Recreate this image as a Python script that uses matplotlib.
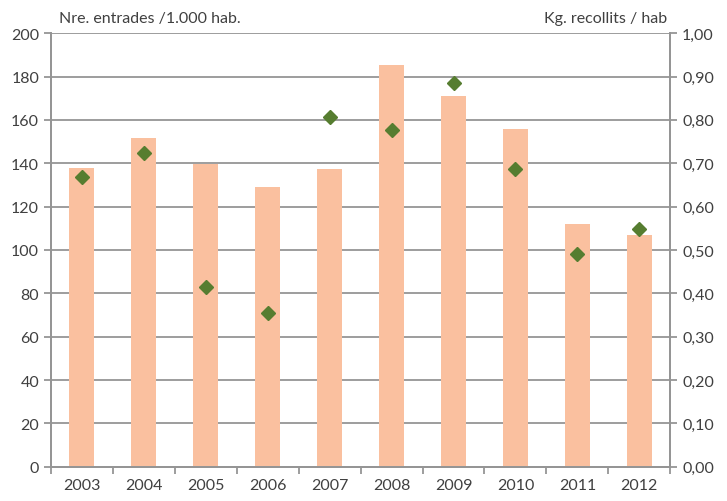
import numpy as np
import matplotlib
matplotlib.use('Agg')
import matplotlib.pyplot as plt
from matplotlib.ticker import FuncFormatter

plt.rcParams['font.family'] = ['Lato', 'DejaVu Sans']

# data
years = ['2003', '2004', '2005', '2006', '2007', '2008', '2009', '2010', '2011', '2012']
entrades = [138, 151.5, 139.5, 129, 137.5, 185.3, 171, 155.8, 112, 107]   # left axis, bars
kg_hab = [0.668, 0.723, 0.415, 0.355, 0.806, 0.776, 0.885, 0.687, 0.491, 0.548]  # right axis

grey = '#959595'
txt = '#404040'

fig = plt.figure(figsize=(7.27, 5.02), dpi=100)
ax = fig.add_axes([0.070, 0.068, 0.852, 0.864])
x = np.arange(len(years))

ax.bar(x, entrades, width=0.4, color='#FAC09F', zorder=2)
ax.set_ylim(0, 200)
ax.set_xlim(-0.5, len(years) - 0.5)
ax.set_yticks(np.arange(0, 201, 20))
ax.yaxis.grid(True, color=grey, linewidth=1.3, zorder=0)
ax.set_axisbelow(True)
ax.set_xticks(x)
ax.set_xticklabels(years)
ax.set_xticks(np.arange(-0.5, len(years), 1), minor=True)
ax.tick_params(axis='x', which='major', length=0, pad=8, labelsize=11.5, labelcolor=txt)
ax.tick_params(axis='x', which='minor', length=5, color=grey, width=1.3, direction='out')
ax.tick_params(axis='y', length=5, color=grey, width=1.3, labelsize=11.5, labelcolor=txt)
ax.spines['top'].set_visible(False)
for s in ['left', 'right', 'bottom']:
    ax.spines[s].set_color(grey)
    ax.spines[s].set_linewidth(1.3)

ax2 = ax.twinx()
ax2.plot(x, kg_hab, linestyle='none', marker='D', markersize=7, color='#567D30', zorder=3)
ax2.set_ylim(0, 1.0)
ax2.set_yticks(np.arange(0, 1.01, 0.1))
ax2.yaxis.set_major_formatter(FuncFormatter(lambda v, p: f'{v:.2f}'.replace('.', ',')))
ax2.tick_params(axis='y', length=5, color=grey, width=1.3, labelsize=11.5, labelcolor=txt)
ax2.spines['top'].set_visible(False)
for s in ['left', 'right', 'bottom']:
    ax2.spines[s].set_color(grey)
    ax2.spines[s].set_linewidth(1.3)

fig.text(0.081, 0.955, 'Nre. entrades /1.000 hab.', fontsize=11.5, color=txt, ha='left', va='baseline')
fig.text(0.918, 0.955, 'Kg. recollits / hab', fontsize=11.5, color=txt, ha='right', va='baseline')

fig.savefig('out.png', dpi=100)
